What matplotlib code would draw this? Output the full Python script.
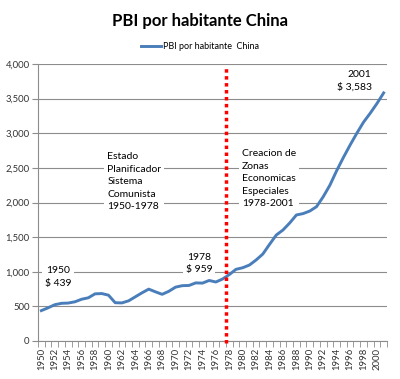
import matplotlib
matplotlib.use("Agg")
import matplotlib.pyplot as plt
import numpy as np

plt.rcParams["font.family"] = ["Lato", "DejaVu Sans"]

years = list(range(1950, 2002))
pbi = [439, 479, 524, 544, 548, 566, 603, 624, 681, 685,
       662, 553, 550, 580, 638, 696, 749, 710, 674, 718,
       778, 799, 802, 839, 836, 874, 852, 895, 959, 1035,
       1058, 1097, 1170, 1256, 1396, 1530, 1603, 1704, 1820, 1840,
       1877, 1940, 2084, 2252, 2460, 2650, 2830, 3000, 3160, 3290,
       3430, 3583]
yticks = [0, 500, 1000, 1500, 2000, 2500, 3000, 3500, 4000]
serie = "PBI por habitante  China"
titulo = "PBI por habitante China"

fig = plt.figure(figsize=(4.0, 3.79), dpi=100)
ax = fig.add_axes([0.095, 0.1003, 0.8725, 0.7307])

x = np.arange(len(years))
ax.plot(x, pbi, color="#4a7ebb", lw=2.1, label=serie, zorder=3)

ax.set_xlim(-0.5, len(years) - 0.5)
ax.set_ylim(0, 4000)
ax.set_yticks(yticks)
ax.set_yticklabels([f"{v:,}" for v in yticks], fontsize=6.8, color="#333333")
ax.yaxis.grid(True, color="#8c8c8c", lw=0.8)
ax.set_axisbelow(True)

ax.set_xticks(x[::2])
ax.set_xticklabels([str(y) for y in years[::2]], rotation=90, fontsize=6.8, color="#333333")
ax.set_xticks(np.arange(-0.5, len(years)), minor=True)
ax.tick_params(axis="x", which="major", length=0, pad=5)
ax.tick_params(axis="x", which="minor", length=4, color="#8c8c8c")
ax.tick_params(axis="y", length=4, color="#8c8c8c", pad=2)

for s in ["top", "right"]:
    ax.spines[s].set_visible(False)
for s in ["left", "bottom"]:
    ax.spines[s].set_color("#8c8c8c")

# linea roja 1978
ax.plot([27.5, 27.5], [-30, 3950], color="red", lw=2.5, ls=(0, (1, 1)),
        zorder=4, clip_on=False)

box = dict(facecolor="white", edgecolor="none", pad=2)
ax.text(2.5, 925, "1950\n$ 439", fontsize=7.5, linespacing=1.5,
        va="center", ha="center", bbox=box)
ax.text(23.5, 1120, "1978\n$ 959", fontsize=7.5, linespacing=1.5,
        va="center", ha="center", bbox=box)
ax.text(9.8, 2300, "Estado\nPlanificador\nSistema\nComunista\n1950-1978",
        fontsize=7.5, linespacing=1.5, va="center", ha="left", bbox=box)
ax.text(29.9, 2340, "Creacion de\nZonas\nEconomicas\nEspeciales\n1978-2001",
        fontsize=7.5, linespacing=1.5, va="center", ha="left", bbox=box)
ax.text(49.2, 3760, "2001\n$ 3,583", fontsize=7.5, linespacing=1.5,
        va="center", ha="right", bbox=box)

fig.suptitle(titulo, fontsize=12, fontweight="bold", y=0.965)
fig.legend(loc="center", bbox_to_anchor=(0.5, 0.878), frameon=False,
           fontsize=6.5, handlelength=2.2, handletextpad=0.3)

fig.savefig("out.png", dpi=100)
